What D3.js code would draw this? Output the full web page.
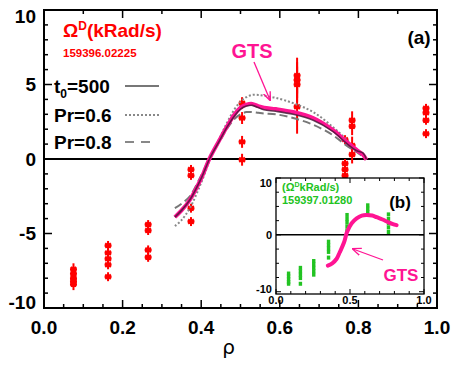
<!DOCTYPE html>
<html>
<head>
<meta charset="utf-8">
<script src="https://cdn.jsdelivr.net/npm/d3@7"></script>
<style>
  body { margin: 0; background: #fff; }
  text { font-family: "Liberation Sans", Arial, sans-serif; font-weight: bold; }
</style>
</head>
<body>
<div id="chart"></div>
<script>
// main panel (a): measured points, red
const redRho = [0.075, 0.075, 0.075, 0.075, 0.075,
    0.163, 0.163, 0.163, 0.163, 0.163,
    0.265, 0.265, 0.265, 0.265,
    0.374, 0.374, 0.374, 0.374,
    0.504, 0.504, 0.504, 0.504,
    0.644, 0.644, 0.644, 0.644,
    0.766, 0.766, 0.766, 0.766,
    0.784, 0.784, 0.784, 0.784,
    0.972, 0.972, 0.972, 0.972];
const redVal = [-7.4, -7.7, -8.0, -8.2, -8.4,
    -5.8, -6.3, -6.7, -7.1, -7.9,
    -4.4, -4.8, -6.1, -6.6,
    -0.7, -1.1, -3.3, -4.2,
    3.75, 2.75, 1.15, -0.05,
    5.6, 5.3, 5.0, 3.5,
    1.3, -0.3, -0.7, -1.1,
    2.6, 2.2, 0.9, 0.3,
    3.4, 3.1, 2.6, 1.7];
const redErr = [0.4, 0.4, 0.4, 0.4, 0.4,
    0.3, 0.3, 0.3, 0.3, 0.3,
    0.3, 0.3, 0.3, 0.3,
    0.3, 0.3, 0.3, 0.3,
    0.4, 0.4, 0.4, 0.4,
    1.2, 1.2, 1.2, 1.8,
    0.3, 0.3, 0.3, 0.3,
    0.6, 0.6, 0.6, 0.6,
    0.3, 0.3, 0.3, 0.3];

// model curves
const curveRho = [0.333, 0.35, 0.371, 0.40, 0.422, 0.445, 0.465, 0.485, 0.50, 0.515, 0.53,
    0.545, 0.56, 0.59, 0.634, 0.685, 0.735, 0.77, 0.796, 0.812, 0.82];
const gtsVal = [-3.9, -3.45, -2.75, -1.3, 0.07, 1.2, 2.15, 3.0, 3.45, 3.65, 3.7,
    3.55, 3.45, 3.35, 3.15, 2.75, 1.95, 1.15, 0.6, 0.27, -0.05];
const t0Val = [-3.9, -3.45, -2.75, -1.3, 0.05, 1.15, 2.1, 2.9, 3.35, 3.55, 3.6,
    3.45, 3.3, 3.2, 3.0, 2.6, 1.85, 1.05, 0.55, 0.4, 0.0];
const pr06Val = [-4.5, -4.1, -3.3, -1.6, -0.05, 1.3, 2.4, 3.35, 3.85, 4.15, 4.3,
    4.3, 4.25, 4.1, 3.75, 3.15, 2.15, 1.3, 0.6, 0.25, 0.0];
const pr08Val = [-3.3, -3.0, -2.5, -1.1, 0.1, 1.1, 2.0, 2.7, 3.0, 3.15, 3.15,
    3.1, 3.05, 3.0, 2.75, 2.3, 1.6, 0.9, 0.45, 0.15, -0.05];

// inset panel (b): measured points, green
const greenRho = [0.085, 0.085, 0.085, 0.085, 0.085,
    0.165, 0.165, 0.165, 0.165, 0.165,
    0.255, 0.255, 0.255, 0.255, 0.255,
    0.355, 0.355, 0.355, 0.355, 0.355,
    0.48, 0.48, 0.48, 0.48, 0.48,
    0.62, 0.62, 0.62,
    0.76, 0.76, 0.76, 0.76, 0.76];
const greenVal = [-6.8, -7.3, -7.8, -8.3, -8.6,
    -5.8, -6.4, -7.0, -7.6, -8.6,
    -4.6, -5.2, -5.8, -6.4, -7.0,
    -1.2, -1.8, -2.4, -3.0, -4.0,
    3.5, 2.8, 2.2, 1.5, 0.8,
    5.2, 4.6, 4.0,
    3.6, 2.8, 2.0, 1.3, 0.5];
const insetRho = [0.35, 0.38, 0.41, 0.43, 0.46, 0.48, 0.51, 0.545, 0.58, 0.61, 0.65, 0.68, 0.72, 0.76, 0.79, 0.815];
const insetGts = [-5.4, -5.0, -4.2, -3.1, -1.3, 0.5, 2.0, 2.9, 3.4, 3.5, 3.4, 3.1, 2.7, 2.2, 1.9, 1.7];

const xTicks = [0.0, 0.2, 0.4, 0.6, 0.8, 1.0];
const yTicks = [-10, -5, 0, 5, 10];
const insetXTicks = [0.0, 0.5, 1.0];
const insetYTicks = [-10, 0, 10];

// margin convention
const svgWidth = 453,
    svgHeight = 366,
    margin = { top: 10, right: 16, bottom: 58, left: 44 },
    width = svgWidth - margin.left - margin.right,
    height = svgHeight - margin.top - margin.bottom;

const magenta = "#ff1493";

let svg = d3.select("#chart").append("svg")
    .attr("width", svgWidth)
    .attr("height", svgHeight);
let plot = svg.append("g")
    .attr("transform", `translate(${margin.left},${margin.top})`);

let xScale = d3.scaleLinear().domain([0, 1]).range([0, width]);
let yScale = d3.scaleLinear().domain([-10, 10]).range([height, 0]);

// ticks pointing inward
function tickLines(g, vals, scale, orient, len) {
    vals.forEach((v) => {
        let p = scale(v);
        let l = len(v);
        if (orient === "left") g.append("line").attr("x1", 0).attr("x2", l).attr("y1", p).attr("y2", p);
        if (orient === "right") g.append("line").attr("x1", width).attr("x2", width - l).attr("y1", p).attr("y2", p);
        if (orient === "bottom") g.append("line").attr("x1", p).attr("x2", p).attr("y1", height).attr("y2", height - l);
        if (orient === "top") g.append("line").attr("x1", p).attr("x2", p).attr("y1", 0).attr("y2", l);
    });
}
let ticks = plot.append("g").attr("stroke", "#000").attr("stroke-width", 1.5);
let yMinor = d3.range(-10, 10.01, 1);
tickLines(ticks, yMinor, yScale, "left", (v) => v % 5 === 0 ? 8 : 4);
tickLines(ticks, yMinor, yScale, "right", (v) => v % 5 === 0 ? 8 : 4);
let xMinorB = d3.range(0, 1.001, 0.05);
tickLines(ticks, xMinorB, xScale, "bottom", (v) => Math.abs(v * 5 - Math.round(v * 5)) < 1e-6 ? 8 : 4);
let xMinorT = d3.range(0, 1.001, 0.1);
tickLines(ticks, xMinorT, xScale, "top", (v) => Math.abs(v * 5 - Math.round(v * 5)) < 1e-6 ? 8 : 4);

// tick labels
plot.selectAll(".ylab")
    .data(yTicks)
    .join("text")
    .attr("x", -8)
    .attr("y", (d) => d === -10 ? yScale(d) - 6 : d === 10 ? yScale(d) + 6 : yScale(d))
    .attr("dy", "0.36em")
    .attr("text-anchor", "end")
    .attr("font-size", 19)
    .text((d) => d);
plot.selectAll(".xlab")
    .data(xTicks)
    .join("text")
    .attr("x", (d) => xScale(d))
    .attr("y", height + 26)
    .attr("text-anchor", "middle")
    .attr("font-size", 19)
    .text((d) => d.toFixed(1));
svg.append("text")
    .attr("x", margin.left + xScale(0.47))
    .attr("y", 354)
    .attr("text-anchor", "middle")
    .attr("font-size", 20)
    .style("font-weight", "normal")
    .style("font-family", "'DejaVu Sans', sans-serif")
    .text("ρ");

// zero line
plot.append("line")
    .attr("x1", 0).attr("x2", width)
    .attr("y1", yScale(0)).attr("y2", yScale(0))
    .attr("stroke", "#000").attr("stroke-width", 2);

// red measured points with error bars
let marker = "M-3.5,0H3.5M-2.8,-2.2L2.8,2.2M-2.8,2.2L2.8,-2.2M0,-2.8V2.8";
let redPts = redRho.map((r, i) => ({ rho: r, val: redVal[i], err: redErr[i] }));
plot.append("g").selectAll("line")
    .data(redPts)
    .join("line")
    .attr("x1", (d) => xScale(d.rho)).attr("x2", (d) => xScale(d.rho))
    .attr("y1", (d) => yScale(d.val + d.err)).attr("y2", (d) => yScale(d.val - d.err))
    .attr("stroke", "#ff0000").attr("stroke-width", 2);
plot.append("g").selectAll("path")
    .data(redPts)
    .join("path")
    .attr("transform", (d) => `translate(${xScale(d.rho)},${yScale(d.val)})`)
    .attr("d", marker)
    .attr("fill", "none")
    .attr("stroke", "#ff0000").attr("stroke-width", 2);

// curves
let line = d3.line()
    .x((d) => xScale(d[0]))
    .y((d) => yScale(d[1]))
    .curve(d3.curveCatmullRom);
function curvePts(vals) { return curveRho.map((r, i) => [r, vals[i]]); }

plot.append("path").datum(curvePts(pr08Val)).attr("d", line)
    .attr("fill", "none").attr("stroke", "#777").attr("stroke-width", 2).attr("stroke-dasharray", "8,4");
plot.append("path").datum(curvePts(pr06Val)).attr("d", line)
    .attr("fill", "none").attr("stroke", "#888").attr("stroke-width", 2).attr("stroke-dasharray", "2,2");
plot.append("path").datum(curvePts(gtsVal)).attr("d", line)
    .attr("fill", "none").attr("stroke", magenta).attr("stroke-width", 4);
plot.append("path").datum(curvePts(t0Val)).attr("d", line)
    .attr("fill", "none").attr("stroke", "#4a1838").attr("stroke-width", 1.6).attr("opacity", 0.85);

// GTS label and arrow
let defs = svg.append("defs");
defs.append("marker")
    .attr("id", "arrow")
    .attr("viewBox", "0 0 10 10")
    .attr("refX", 9).attr("refY", 5)
    .attr("markerWidth", 9).attr("markerHeight", 9)
    .attr("markerUnits", "userSpaceOnUse")
    .attr("orient", "auto")
    .append("path")
    .attr("d", "M0,1L10,5L0,9")
    .attr("fill", "none")
    .attr("stroke", magenta).attr("stroke-width", 1.5);

svg.append("text")
    .attr("x", 252).attr("y", 58)
    .attr("text-anchor", "middle")
    .attr("font-size", 20)
    .attr("fill", magenta)
    .text("GTS");
svg.append("line")
    .attr("x1", 254).attr("y1", 62).attr("x2", 270).attr("y2", 100)
    .attr("stroke", magenta).attr("stroke-width", 1.3)
    .attr("marker-end", "url(#arrow)");

// title + shot
let title = svg.append("text")
    .attr("x", 63).attr("y", 37)
    .attr("font-size", 19)
    .attr("fill", "#ff0000");
title.append("tspan").text("Ω");
title.append("tspan").attr("dy", -7).attr("font-size", 12).text("D");
title.append("tspan").attr("dy", 7).text("(kRad/s)");
svg.append("text")
    .attr("x", 63).attr("y", 57)
    .attr("font-size", 11.5)
    .attr("fill", "#ff0000")
    .text("159396.02225");

svg.append("text")
    .attr("x", 419).attr("y", 44)
    .attr("text-anchor", "middle")
    .attr("font-size", 19)
    .text("(a)");

// legend
let legY = [86, 115, 142];
let legend = svg.append("g");
let lt = legend.append("text").attr("x", 54).attr("y", legY[0] + 7).attr("font-size", 19);
lt.append("tspan").text("t");
lt.append("tspan").attr("dy", 5).attr("font-size", 12).text("0");
lt.append("tspan").attr("dy", -5).text("=500");
legend.append("text").attr("x", 54).attr("y", legY[1] + 7).attr("font-size", 19).text("Pr=0.6");
legend.append("text").attr("x", 54).attr("y", legY[2] + 7).attr("font-size", 19).text("Pr=0.8");
legend.append("line").attr("x1", 125).attr("x2", 159).attr("y1", legY[0]).attr("y2", legY[0])
    .attr("stroke", "#777").attr("stroke-width", 2);
legend.append("line").attr("x1", 125).attr("x2", 159).attr("y1", legY[1]).attr("y2", legY[1])
    .attr("stroke", "#888").attr("stroke-width", 2).attr("stroke-dasharray", "2,2");
legend.append("line").attr("x1", 125).attr("x2", 153).attr("y1", legY[2]).attr("y2", legY[2])
    .attr("stroke", "#888").attr("stroke-width", 2).attr("stroke-dasharray", "9,7");

// frame
plot.append("rect")
    .attr("width", width).attr("height", height)
    .attr("fill", "none").attr("stroke", "#000").attr("stroke-width", 2);

// inset (b)
const inset = { left: 276, top: 178, width: 148, height: 116 };
let ins = svg.append("g").attr("transform", `translate(${inset.left},${inset.top})`);
let xIn = d3.scaleLinear().domain([0, 1]).range([0, inset.width]);
let yIn = d3.scaleLinear().domain([-10.4, 10]).range([inset.height, 0]);

ins.append("rect")
    .attr("width", inset.width).attr("height", inset.height)
    .attr("fill", "#fff");
ins.append("line")
    .attr("x1", 0).attr("x2", inset.width)
    .attr("y1", yIn(0)).attr("y2", yIn(0))
    .attr("stroke", "#000").attr("stroke-width", 1.5);

let inTicks = ins.append("g").attr("stroke", "#000").attr("stroke-width", 1);
d3.range(-10, 10.01, 2.5).forEach((v) => {
    let l = v % 10 === 0 ? 5 : 3;
    inTicks.append("line").attr("x1", 0).attr("x2", l).attr("y1", yIn(v)).attr("y2", yIn(v));
    inTicks.append("line").attr("x1", inset.width).attr("x2", inset.width - l).attr("y1", yIn(v)).attr("y2", yIn(v));
});
d3.range(0, 1.001, 0.1).forEach((v) => {
    let l = Math.abs(v * 2 - Math.round(v * 2)) < 1e-6 ? 5 : 3;
    inTicks.append("line").attr("x1", xIn(v)).attr("x2", xIn(v)).attr("y1", inset.height).attr("y2", inset.height - l);
    inTicks.append("line").attr("x1", xIn(v)).attr("x2", xIn(v)).attr("y1", 0).attr("y2", l);
});

ins.selectAll(".iy")
    .data(insetYTicks)
    .join("text")
    .attr("x", -4)
    .attr("y", (d) => d === 10 ? yIn(d) + 5 : d === -10 ? yIn(d) - 3 : yIn(d))
    .attr("dy", "0.36em")
    .attr("text-anchor", "end")
    .attr("font-size", 11)
    .text((d) => d);
ins.selectAll(".ix")
    .data(insetXTicks)
    .join("text")
    .attr("x", (d) => xIn(d))
    .attr("y", inset.height + 10)
    .attr("text-anchor", "middle")
    .attr("font-size", 11)
    .text((d) => d.toFixed(1));

ins.append("g").selectAll("rect")
    .data(greenRho.map((r, i) => [r, greenVal[i]]))
    .join("rect")
    .attr("x", (d) => xIn(d[0]) - 1.7)
    .attr("y", (d) => yIn(d[1]) - 2)
    .attr("width", 3.4).attr("height", 4)
    .attr("fill", "#22c322");

let lineIn = d3.line()
    .x((d) => xIn(d[0]))
    .y((d) => yIn(d[1]))
    .curve(d3.curveCatmullRom);
ins.append("path")
    .datum(insetRho.map((r, i) => [r, insetGts[i]]))
    .attr("d", lineIn)
    .attr("fill", "none").attr("stroke", magenta).attr("stroke-width", 4)
    .attr("stroke-linecap", "round");

let it = ins.append("text").attr("x", 6).attr("y", 13).attr("font-size", 11).attr("fill", "#22c322");
it.append("tspan").text("(Ω");
it.append("tspan").attr("dy", -4).attr("font-size", 7).text("D");
it.append("tspan").attr("dy", 4).text("kRad/s)");
ins.append("text").attr("x", 6).attr("y", 26).attr("font-size", 11).attr("fill", "#22c322").text("159397.01280");
ins.append("text").attr("x", 124).attr("y", 30).attr("text-anchor", "middle").attr("font-size", 17).text("(b)");

ins.append("text").attr("x", 125).attr("y", 103).attr("text-anchor", "middle").attr("font-size", 17)
    .attr("fill", magenta).text("GTS");
ins.append("line")
    .attr("x1", 107).attr("y1", 82).attr("x2", 77).attr("y2", 71)
    .attr("stroke", magenta).attr("stroke-width", 1.3)
    .attr("marker-end", "url(#arrow)");

ins.append("rect")
    .attr("width", inset.width).attr("height", inset.height)
    .attr("fill", "none").attr("stroke", "#000").attr("stroke-width", 1.3);
</script>
</body>
</html>
